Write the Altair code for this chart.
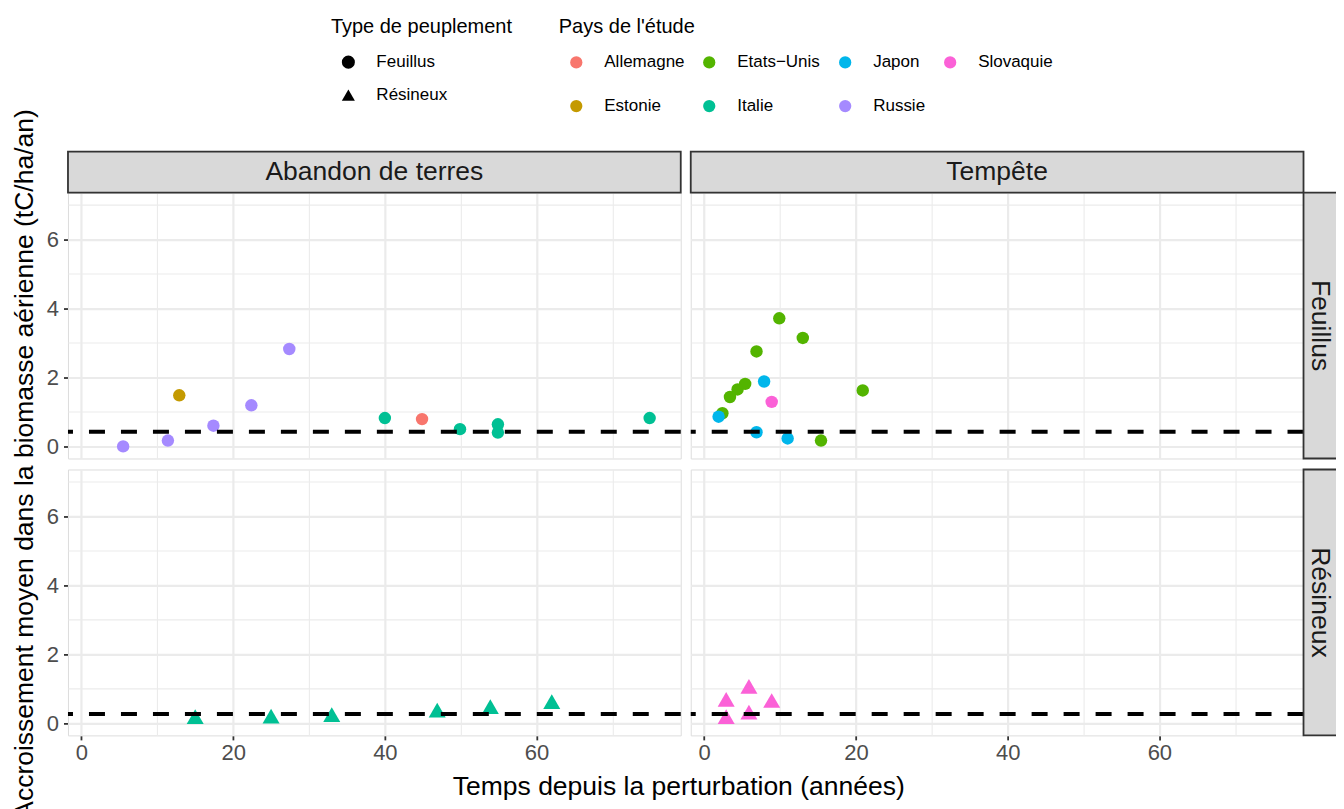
import altair as alt
import pandas as pd

# ---- data ----
perturbations = ["Abandon de terres", "Tempête"]
types = ["Feuillus", "Résineux"]

pt_pert = (["Abandon de terres"] * 12 + ["Tempête"] * 14 +
           ["Abandon de terres"] * 6 + ["Tempête"] * 5)
pt_type = ["Feuillus"] * 26 + ["Résineux"] * 11
pt_pays = (["Russie"] * 5 + ["Estonie"] + ["Italie"] * 5 + ["Allemagne"] +
           ["Etats−Unis"] * 9 + ["Japon"] * 4 + ["Slovaquie"] +
           ["Italie"] * 6 + ["Slovaquie"] * 5)
pt_x = [5.5, 11.4, 17.4, 22.4, 27.4, 12.9, 40.0, 49.9, 54.9, 54.9, 74.9, 44.9,
        9.9, 13.0, 6.9, 5.4, 4.4, 3.4, 20.9, 2.4, 15.4, 7.9, 1.9, 6.9, 11.0, 8.9,
        15.0, 25.0, 33.0, 46.9, 53.9, 62.0,
        2.9, 5.9, 8.9, 5.9, 2.9]
pt_y = [0.0, 0.17, 0.60, 1.19, 2.82, 1.48, 0.82, 0.50, 0.64, 0.40, 0.82, 0.79,
        3.71, 3.14, 2.75, 1.81, 1.65, 1.43, 1.62, 0.96, 0.17, 1.88, 0.86, 0.41, 0.23, 1.29,
        0.19, 0.21, 0.25, 0.38, 0.48, 0.63,
        0.69, 1.07, 0.66, 0.32, 0.19]

mean_type = ["Feuillus", "Résineux"]
mean_value = [0.425, 0.27]

pays_order = ["Allemagne", "Estonie", "Etats−Unis", "Italie", "Japon", "Russie", "Slovaquie"]
pays_colors = ["#F8766D", "#C49A00", "#53B400", "#00C094", "#00B6EB", "#A58AFF", "#FB61D7"]

x_ticks = [0, 10, 20, 30, 40, 50, 60, 70]
y_ticks = [0, 1, 2, 3, 4, 5, 6, 7]

y_title = "Accroissement moyen dans la biomasse aérienne (tC/ha/an)"
x_title = "Temps depuis la perturbation (années)"

# ---- build one table for the facet ----
rows = []
for p, t, c, x, y in zip(pt_pert, pt_type, pt_pays, pt_x, pt_y):
    rows.append(dict(kind="pt", Perturbation=p, Type=t, Pays=c, x=x, y=y, label=""))
for t, m in zip(mean_type, mean_value):
    for p in perturbations:
        rows.append(dict(kind="hline", Perturbation=p, Type=t, Pays=None, x=None, y=m, label=""))
for p in perturbations:
    rows.append(dict(kind="colstrip", Perturbation=p, Type="Feuillus", Pays=None, x=None, y=None, label=p))
for t in types:
    rows.append(dict(kind="rowstrip", Perturbation="Tempête", Type=t, Pays=None, x=None, y=None, label=t))
rows.append(dict(kind="ytitle", Perturbation="Abandon de terres", Type="Feuillus", Pays=None,
                 x=None, y=None, label=y_title))
df = pd.DataFrame(rows)

W, H = 613, 266
STRIP = 41
ROWGAP = 11
FONT = "Liberation Sans"
TFS = 26.5

x_scale = alt.Scale(domain=[-1.77, 79.0], nice=False, zero=False)
y_scale = alt.Scale(domain=[-0.35, 7.35], nice=False, zero=False)

x_axis = alt.Axis(
    values=x_ticks,
    labelExpr="datum.value % 20 === 0 ? datum.label : ''",
    gridColor="#EBEBEB",
    gridWidth={"condition": {"test": "datum.value % 20 === 0", "value": 2.2}, "value": 1.1},
    tickOpacity={"condition": {"test": "datum.value % 20 === 0", "value": 1}, "value": 0},
    tickColor="#333333", tickWidth=1.8, tickSize=4.5,
    labelColor="#4D4D4D", labelFontSize=22, labelFont=FONT, labelPadding=3,
    domain=False, title=None,
)
y_axis = alt.Axis(
    values=y_ticks,
    labelExpr="datum.value % 2 === 0 ? datum.label : ''",
    gridColor="#EBEBEB",
    gridWidth={"condition": {"test": "datum.value % 2 === 0", "value": 2.2}, "value": 1.1},
    tickOpacity={"condition": {"test": "datum.value % 2 === 0", "value": 1}, "value": 0},
    tickColor="#333333", tickWidth=1.8, tickSize=4.5,
    labelColor="#4D4D4D", labelFontSize=22, labelFont=FONT, labelPadding=5,
    domain=False, title=None,
)

points = alt.Chart().mark_point(filled=True, opacity=1, strokeWidth=0).encode(
    x=alt.X("x:Q", scale=x_scale, axis=x_axis),
    y=alt.Y("y:Q", scale=y_scale, axis=y_axis),
    color=alt.Color("Pays:N", scale=alt.Scale(domain=pays_order, range=pays_colors),
                    legend=alt.Legend(title="Pays de l'étude", orient="none",
                                      legendX=491, legendY=-176, columns=4,
                                      symbolType="circle", symbolSize=150,
                                      symbolOffset=9, labelOffset=19.5,
                                      columnPadding=7, rowPadding=26,
                                      titleFontSize=20, titleFont=FONT, titleFontWeight="normal",
                                      titleColor="black", titlePadding=17, titleLimit=500,
                                      labelFontSize=17, labelFont=FONT, labelColor="black",
                                      labelLimit=300)),
    shape=alt.Shape("Type:N", scale=alt.Scale(domain=types, range=["circle", "triangle-up"]),
                    legend=alt.Legend(title="Type de peuplement", orient="none",
                                      legendX=263, legendY=-176,
                                      symbolSize=170, symbolFillColor="black",
                                      symbolStrokeColor="black", symbolStrokeWidth=0,
                                      symbolOffset=9, labelOffset=19.5, rowPadding=15,
                                      titleFontSize=20, titleFont=FONT, titleFontWeight="normal",
                                      titleColor="black", titlePadding=17, titleLimit=500,
                                      labelFontSize=17, labelFont=FONT, labelColor="black",
                                      labelLimit=300)),
    size=alt.condition("datum.Type === 'Résineux'", alt.value(290), alt.value(155)),
).transform_filter("datum.kind === 'pt'")

hline = alt.Chart().mark_rule(color="black", strokeWidth=4, strokeDash=[16, 16]).encode(
    y=alt.Y("y:Q", scale=y_scale, axis=y_axis),
).transform_filter("datum.kind === 'hline'")

colstrip = alt.Chart().mark_rect(clip=False, fill="#D9D9D9", stroke="#333333", strokeWidth=1.8).encode(
    x=alt.value(0), x2=alt.value(W), y=alt.value(-STRIP), y2=alt.value(0),
).transform_filter("datum.kind === 'colstrip'")
coltext = alt.Chart().mark_text(clip=False, fontSize=TFS, font=FONT, color="#1A1A1A",
                                baseline="middle", align="center").encode(
    x=alt.value(W / 2), y=alt.value(-STRIP / 2), text="label:N",
).transform_filter("datum.kind === 'colstrip'")

rowstrip = alt.Chart().mark_rect(clip=False, fill="#D9D9D9", stroke="#333333", strokeWidth=1.8).encode(
    x=alt.value(W), x2=alt.value(W + STRIP), y=alt.value(0), y2=alt.value(H),
).transform_filter("datum.kind === 'rowstrip'")
rowtext = alt.Chart().mark_text(clip=False, fontSize=TFS, font=FONT, color="#1A1A1A",
                                baseline="middle", align="center", angle=90).encode(
    x=alt.value(W + 16), y=alt.value(H / 2), text="label:N",
).transform_filter("datum.kind === 'rowstrip'")

ytitle = alt.Chart().mark_text(clip=False, fontSize=TFS, font=FONT, color="black",
                               baseline="alphabetic", align="center", angle=270).encode(
    x=alt.value(-35), y=alt.value(H + ROWGAP / 2), text="label:N",
).transform_filter("datum.kind === 'ytitle'")

layered = alt.layer(points, hline, colstrip, coltext, rowstrip, rowtext, ytitle, data=df).properties(
    width=W, height=H
)

chart = layered.facet(
    row=alt.Row("Type:N", sort=types, title=None, header=alt.Header(labels=False)),
    column=alt.Column("Perturbation:N", sort=perturbations,
                      title=x_title,
                      header=alt.Header(labels=False, titleOrient="bottom", titleFontSize=TFS,
                                        titleFont=FONT, titleFontWeight="normal", titleColor="black",
                                        titlePadding=0, titleLimit=2000)),
    spacing={"row": ROWGAP, "column": 10},
    bounds="flush",
).resolve_scale(x="shared", y="shared").configure_view(
    stroke="#333333", strokeWidth=1.8
).configure(padding={"left": 3, "top": 8.5, "right": -10.5, "bottom": 0}, background="white")

chart.save("out.html", embed_options={"renderer": "svg", "actions": False})
